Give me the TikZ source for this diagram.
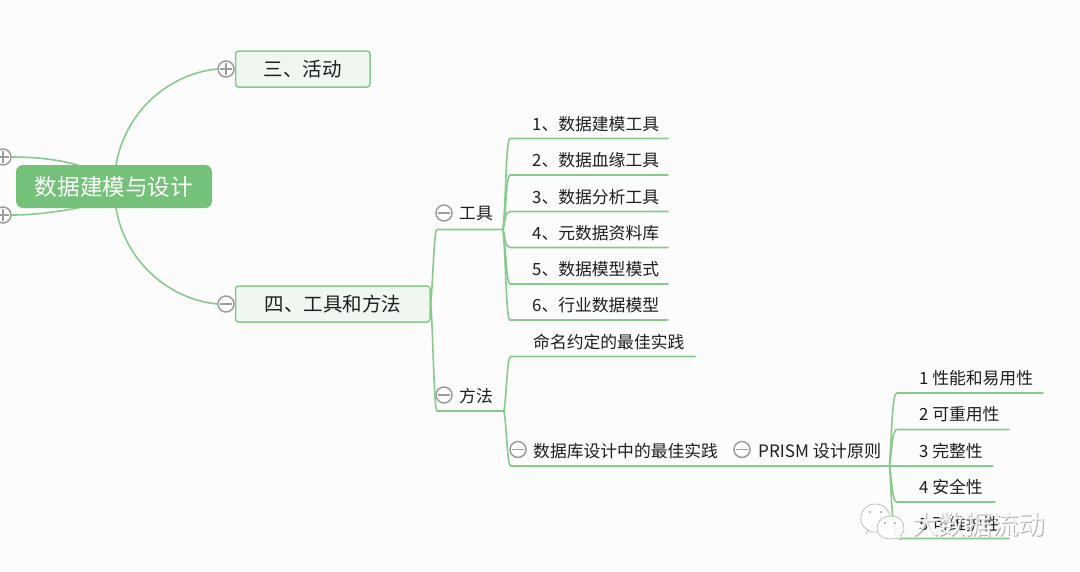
\documentclass[tikz,border=0pt]{standalone}
\usepackage{fontspec}
\setmainfont{Noto Sans CJK SC}
\usepackage{xcolor}
\definecolor{mapLine}{HTML}{88CA8C}
\definecolor{mapRoot}{HTML}{74C17A}
\definecolor{mapFill}{HTML}{F0F6F0}
\definecolor{mapPaper}{HTML}{FCFCFC}
\definecolor{mapText}{HTML}{1E1E1E}
\definecolor{mapKnob}{HTML}{9C9C9C}
\newcommand{\mapLeaf}[1]{\fontsize{16.8}{18}\selectfont #1}
\tikzset{
  rootbox/.style={fill=mapRoot, rounded corners=7pt, inner sep=0pt, text=white, minimum width=196pt, minimum height=43pt, font={\fontsize{22.6}{24}\selectfont}},
  mainbox/.style={draw=mapLine, fill=mapFill, line width=1.5pt, rounded corners=3pt, inner sep=0pt, text=mapText, minimum height=36pt, font={\fontsize{19.5}{22}\selectfont}},
  leaftext/.style={anchor=west, inner sep=0pt, text=mapText, font=\mapLeaf},
  linkline/.style={draw=mapLine, line width=1.6pt, line cap=round},
  knobbase/.style={circle, draw=mapKnob, fill=white, line width=1.5pt, minimum size=16pt, inner sep=0pt},
  plusknob/.style={knobbase, path picture={\draw[mapKnob, line width=1.5pt] ([xshift=-6pt]path picture bounding box.center) -- ([xshift=6pt]path picture bounding box.center) ([yshift=-6pt]path picture bounding box.center) -- ([yshift=6pt]path picture bounding box.center);}},
  minusknob/.style={knobbase, path picture={\draw[mapKnob, line width=1.5pt] ([xshift=-6pt]path picture bounding box.center) -- ([xshift=6pt]path picture bounding box.center);}},
  chatbubble/.style={draw=gray!55, fill=white, line width=0.7pt},
  chateye/.style={fill=gray!70},
  marktext/.style={anchor=west, inner sep=0pt, font={\fontsize{26.6}{28}\selectfont}},
}
\begin{document}
\begin{tikzpicture}[x=1pt,y=-1pt]
\path[use as bounding box, fill=mapPaper] (0,0) rectangle (1080,571);
% main topics
\node[rootbox] (root) at (114,186.5) {数据建模与设计};
\node[mainbox, minimum width=134.5pt] (act) at (302.75,69) {三、活动};
\node[mainbox, minimum width=194.5pt] (tm) at (332.75,304) {四、工具和方法};
\coordinate (rootTL) at (78,165);
\coordinate (rootBL) at (78,208);
\coordinate (rootT) at (116,165);
\coordinate (rootB) at (116,208);
\node[plusknob] (knobL1) at (3,157) {};
\node[plusknob] (knobL2) at (3,215) {};
\node[plusknob] (knobAct) at (226,69) {};
\node[minusknob] (knobTm) at (226,304) {};
\draw[linkline] (rootTL) .. controls (55,159) and (35,157) .. (knobL1.east);
\draw[linkline] (rootBL) .. controls (55,212) and (35,215) .. (knobL2.east);
\draw[linkline] (rootT) .. controls (125,112) and (168,74) .. (knobAct.west);
\draw[linkline] (rootB) .. controls (125,261) and (168,299) .. (knobTm.west);
% second level
\coordinate (toolA) at (437,229.5);
\coordinate (toolF) at (503,229.5);
\coordinate (wayA) at (437,411);
\coordinate (wayF) at (504,411);
\node[minusknob] (knobTool) at (444,213) {};
\node[minusknob] (knobWay) at (444,395) {};
\node[leaftext] (tool) at (459,214) {工具};
\node[leaftext] (way) at (459,396) {方法};
\draw[linkline] (tm.east) .. controls (433,280) and (434,229.5) .. (toolA) -- (toolF);
\draw[linkline] (tm.east) .. controls (433,330) and (434,411) .. (wayA) -- (wayF);
% tools
\node[leaftext] (t1) at (532,124) {1、数据建模工具};
\node[leaftext] (t2) at (532,160.5) {2、数据血缘工具};
\node[leaftext] (t3) at (532,197) {3、数据分析工具};
\node[leaftext] (t4) at (532,233) {4、元数据资料库};
\node[leaftext] (t5) at (532,269.5) {5、数据模型模式};
\node[leaftext] (t6) at (532,305.5) {6、行业数据模型};
\coordinate (t1a) at (510,138.5);
\coordinate (t2a) at (510,175);
\coordinate (t3a) at (510,211.5);
\coordinate (t4a) at (510,247.5);
\coordinate (t5a) at (510,284);
\coordinate (t6a) at (510,320);
\coordinate (t1b) at (668,138.5);
\coordinate (t2b) at (668,175);
\coordinate (t3b) at (668,211.5);
\coordinate (t4b) at (668,247.5);
\coordinate (t5b) at (668,284);
\coordinate (t6b) at (668,320);
\draw[linkline] (toolF) .. controls (506,200) and (506,138.5) .. (t1a) -- (t1b);
\draw[linkline] (toolF) .. controls (506,215) and (506,175) .. (t2a) -- (t2b);
\draw[linkline] (toolF) .. controls (505,222) and (505,211.5) .. (t3a) -- (t3b);
\draw[linkline] (toolF) .. controls (505,236) and (505,247.5) .. (t4a) -- (t4b);
\draw[linkline] (toolF) .. controls (506,245) and (506,284) .. (t5a) -- (t5b);
\draw[linkline] (toolF) .. controls (506,260) and (506,320) .. (t6a) -- (t6b);
% methods
\node[leaftext] (m1) at (533,342) {命名约定的最佳实践};
\node[leaftext] (m2) at (533,451) {数据库设计中的最佳实践};
\node[minusknob] (knobM2) at (518,449.5) {};
\coordinate (m1a) at (511,356.5);
\coordinate (m1b) at (695,356.5);
\coordinate (m2a) at (511,466);
\coordinate (prismF) at (889.5,466);
\draw[linkline] (wayF) .. controls (507,390) and (507,356.5) .. (m1a) -- (m1b);
\draw[linkline] (wayF) .. controls (507,430) and (507,466) .. (m2a) -- (prismF);
% prism
\node[minusknob] (knobP) at (742,449.5) {};
\node[leaftext, font={\fontsize{17.1}{18}\selectfont}] (prism) at (758,451) {PRISM 设计原则};
\node[leaftext] (p1) at (919,378.5) {1 性能和易用性};
\node[leaftext] (p2) at (919,414.5) {2 可重用性};
\node[leaftext] (p3) at (919,451) {3 完整性};
\node[leaftext] (p4) at (919,487.5) {4 安全性};
\node[leaftext] (p5) at (919,524) {5 可维护性};
\coordinate (p1a) at (897,393);
\coordinate (p2a) at (897,429.5);
\coordinate (p4a) at (897,502);
\coordinate (p5a) at (899,538.5);
\coordinate (p1b) at (1043,393);
\coordinate (p2b) at (1009,429.5);
\coordinate (p3b) at (993,466);
\coordinate (p4b) at (995,502);
\coordinate (p5b) at (1009,538.5);
\draw[linkline] (prismF) .. controls (892,430) and (892,393) .. (p1a) -- (p1b);
\draw[linkline] (prismF) .. controls (892,450) and (892,429.5) .. (p2a) -- (p2b);
\draw[linkline] (prismF) -- (p3b);
\draw[linkline] (prismF) .. controls (892,480) and (892,502) .. (p4a) -- (p4b);
\draw[linkline] (prismF) .. controls (892,500) and (892,538.5) .. (p5a) -- (p5b);
% watermark
\draw[chatbubble, fill opacity=0.85] (868,530) .. controls (861,526) and (861,522) .. (861,518) .. controls (861,510) and (867,504) .. (875,504) .. controls (884,504) and (890,510) .. (890,518) .. controls (890,526) and (884,532) .. (875,532) .. controls (872,532) and (870,532) .. (868,530) -- (866,534) -- cycle;
\fill[chateye] (870,512) circle (1.2);
\fill[chateye] (881,512) circle (1.2);
\draw[chatbubble, fill opacity=0.85] (877,528) .. controls (877,521) and (883,516) .. (891,516) .. controls (899,516) and (904,521) .. (904,528) .. controls (904,532) and (902,535) .. (900,536) -- (901,540) -- (896,538) .. controls (887,541) and (877,537) .. (877,528) -- cycle;
\fill[chateye] (885,523) circle (1.2);
\fill[chateye] (895,523) circle (1.2);
\node[marktext, text=gray!75, text opacity=0.8] (markShade) at (913,525.5) {大数据流动};
\node[marktext, text=white, text opacity=0.85] (markText) at (912,524.5) {大数据流动};
\end{tikzpicture}
\end{document}
